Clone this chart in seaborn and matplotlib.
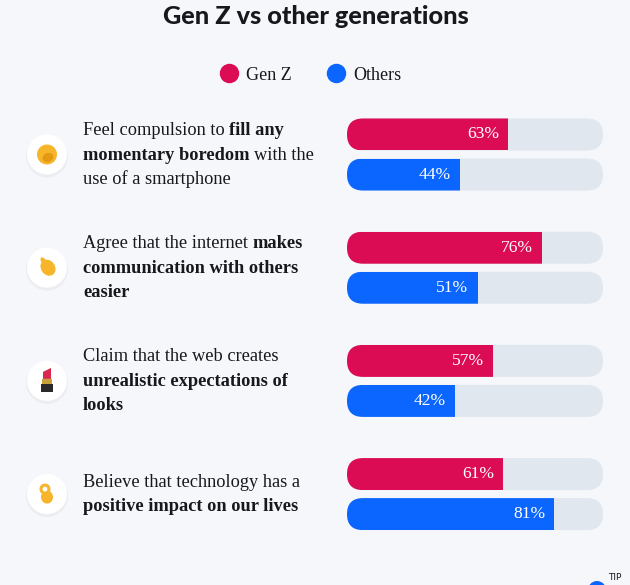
import matplotlib
matplotlib.use("Agg")
import matplotlib.pyplot as plt
import matplotlib.transforms as mtransforms
from matplotlib.patches import FancyBboxPatch, Circle, Ellipse, Rectangle, Polygon
from matplotlib.lines import Line2D
import seaborn as sns
import pandas as pd

# ---------------- data ----------------
title = "Gen Z vs other generations"
groups = ["Gen Z", "Others"]
statements = [
    "Fill momentary boredom with a smartphone",
    "Internet makes communication easier",
    "Web creates unrealistic expectations of looks",
    "Technology has a positive impact",
]
genz_values = [63, 76, 57, 61]
others_values = [44, 51, 42, 81]
track_value = 100
label_lines = [
    [[("Feel compulsion to ", "normal"), ("fill any", "bold")],
     [("momentary boredom", "bold"), (" with the", "normal")],
     [("use of a smartphone", "normal")]],
    [[("Agree that the internet ", "normal"), ("makes", "bold")],
     [("communication with others", "bold")],
     [("easier", "bold")]],
    [[("Claim that the web creates", "normal")],
     [("unrealistic expectations of", "bold")],
     [("looks", "bold")]],
    [[("Believe that technology has a", "normal")],
     [("positive impact on our lives", "bold")]],
]

# ---------------- style ----------------
RED = "#DC0C54"
BLUE = "#0A66FF"
TRACK = "#E1E7EF"
BG = "#F5F7FA"
TXT = "#16181D"
SERIF = "Liberation Serif"

sns.set_theme(style="white")
plt.rcParams["font.family"] = ["DejaVu Sans"]

W, H = 630, 585
fig = plt.figure(figsize=(W / 100, H / 100), dpi=100, facecolor=BG)
px = mtransforms.Affine2D().scale(1 / W, -1 / H).translate(0, 1) + fig.transFigure

# axes geometry (pixels from top-left)
ax_left, ax_right = 347, 603
group_c0, group_step = 154.5, 113.2
ax_top = group_c0 - group_step / 2
ax_bot = group_c0 + group_step * 3.5
ax = fig.add_axes([ax_left / W, 1 - ax_bot / H, (ax_right - ax_left) / W, (ax_bot - ax_top) / H])
ax.set_facecolor(BG)

df = pd.DataFrame({
    "statement": statements * 2,
    "group": [groups[0]] * len(statements) + [groups[1]] * len(statements),
    "value": genz_values + others_values,
})
df["track"] = track_value

common = dict(data=df, y="statement", hue="group", order=statements, hue_order=groups,
              width=0.707, gap=0.2, dodge=True, legend=False, ax=ax, orient="h",
              saturation=1, linewidth=0)
sns.barplot(x="track", palette=[TRACK, TRACK], **common)
n_track = len(ax.patches)
sns.barplot(x="value", palette=[RED, BLUE], **common)

ax.set_xlim(0, 100)
ax.set_ylim(3.5, -0.5)
ax.set_axis_off()

# rounded tracks, value bars clipped by them
y_per_px = 4.0 / (ax_bot - ax_top)
x_per_px = 100.0 / (ax_right - ax_left)
m = y_per_px / x_per_px
patches = list(ax.patches)
tracks, vals = patches[:n_track], patches[n_track:]
rounded = []
for tp in tracks:
    x, y, w, h = tp.get_x(), tp.get_y(), tp.get_width(), tp.get_height()
    rp = FancyBboxPatch((x, y), w, h, boxstyle=f"round,pad=0,rounding_size={h / m / 2}",
                        mutation_aspect=m, fc=TRACK, ec="none", zorder=0.5)
    ax.add_patch(rp)
    tp.set_visible(False)
    rounded.append((y, rp))
for vp in vals:
    for y, rp in rounded:
        if abs(vp.get_y() - y) < 1e-6:
            vp.set_clip_path(rp)
    vp.set_zorder(1)
    ax.annotate(f"{vp.get_width():.0f}%",
                xy=(vp.get_x() + vp.get_width(), vp.get_y() + vp.get_height() / 2),
                xytext=(-9, 0), textcoords="offset pixels", ha="right", va="center",
                color="white", fontsize=12.6, family=SERIF, zorder=3)

# ---------------- title & legend ----------------
fig.text(316 / W, 1 - 17 / H, title, ha="center", va="center", fontsize=18.2,
         fontweight="black", family="Lato", color=TXT)
LFS = 13
handles = [Line2D([0], [0], marker="o", ls="", markersize=14, markerfacecolor=c,
                  markeredgecolor="none", label=g) for g, c in zip(groups, [RED, BLUE])]
fig.legend(handles=handles, loc="center", bbox_to_anchor=(311 / W, 1 - 75 / H), ncol=2,
           frameon=False, prop={"family": SERIF, "size": LFS}, handletextpad=0.45,
           columnspacing=1.95, handlelength=1.0, labelcolor=TXT, borderpad=0.2)

# ---------------- rich labels ----------------
renderer = fig.canvas.get_renderer()
FS = 13.2


def text_width(s, weight):
    t = fig.text(0, 0, s, fontsize=FS, family=SERIF, fontweight=weight)
    wd = t.get_window_extent(renderer=renderer).width
    t.remove()
    return wd


space_w = {wt: text_width("a a", wt) - text_width("aa", wt) for wt in ("normal", "bold")}

for gi, lines in enumerate(label_lines):
    cy = group_c0 + gi * group_step
    n = len(lines)
    for li, segs in enumerate(lines):
        base = cy + 5 + (li - (n - 1) / 2) * 24.5
        x = 83
        for s, wt in segs:
            lead = len(s) - len(s.lstrip(" "))
            trail = len(s) - len(s.rstrip(" "))
            x += lead * space_w[wt]
            core = s.strip(" ")
            t = fig.text(x, base, core, transform=px, fontsize=FS, family=SERIF,
                         fontweight=wt, color=TXT, va="baseline", ha="left")
            x += t.get_window_extent(renderer=renderer).width + trail * space_w[wt]

# ---------------- icons ----------------
YEL = "#F7B52C"
DYEL = "#E39A12"
for gi in range(len(label_lines)):
    cx, cy = 47, group_c0 + gi * group_step
    fig.add_artist(Circle((cx, cy + 2), 21, transform=px, fc="#000000", alpha=0.04, ec="none"))
    fig.add_artist(Circle((cx, cy), 20, transform=px, fc="white", ec="none"))
    if gi == 0:
        fig.add_artist(Circle((cx, cy), 10, transform=px, fc=YEL, ec="none"))
        fig.add_artist(Ellipse((cx + 1, cy + 3), 11, 9, angle=-20, transform=px, fc=DYEL, ec="none"))
    elif gi == 1:
        fig.add_artist(Ellipse((cx + 1, cy), 14, 17, angle=-35, transform=px, fc=YEL, ec="none"))
        fig.add_artist(Ellipse((cx - 3, cy - 6), 5, 10, angle=-35, transform=px, fc=YEL, ec="none"))
    elif gi == 2:
        fig.add_artist(Polygon([(cx - 4, cy - 2), (cx - 4, cy - 9), (cx + 4, cy - 13), (cx + 4, cy - 2)],
                               transform=px, fc="#D8284F", ec="none"))
        fig.add_artist(Rectangle((cx - 5, cy - 2), 10, 5, transform=px, fc="#C9A13A", ec="none"))
        fig.add_artist(Rectangle((cx - 6, cy + 3), 12, 8, transform=px, fc="#2A2A2A", ec="none"))
    else:
        fig.add_artist(Ellipse((cx, cy + 3), 12, 13, transform=px, fc=YEL, ec="none"))
        fig.add_artist(Circle((cx - 2, cy - 5), 4, transform=px, fc="white", ec=YEL, lw=2.2))

# bottom-right corner badge
fig.add_artist(Circle((597, 590), 9, transform=px, fc=BLUE, ec="none"))
fig.text(608, 578, "TIP", transform=px, fontsize=6.5, color=TXT, va="center", ha="left")

fig.savefig("out.png", dpi=100, facecolor=BG)
